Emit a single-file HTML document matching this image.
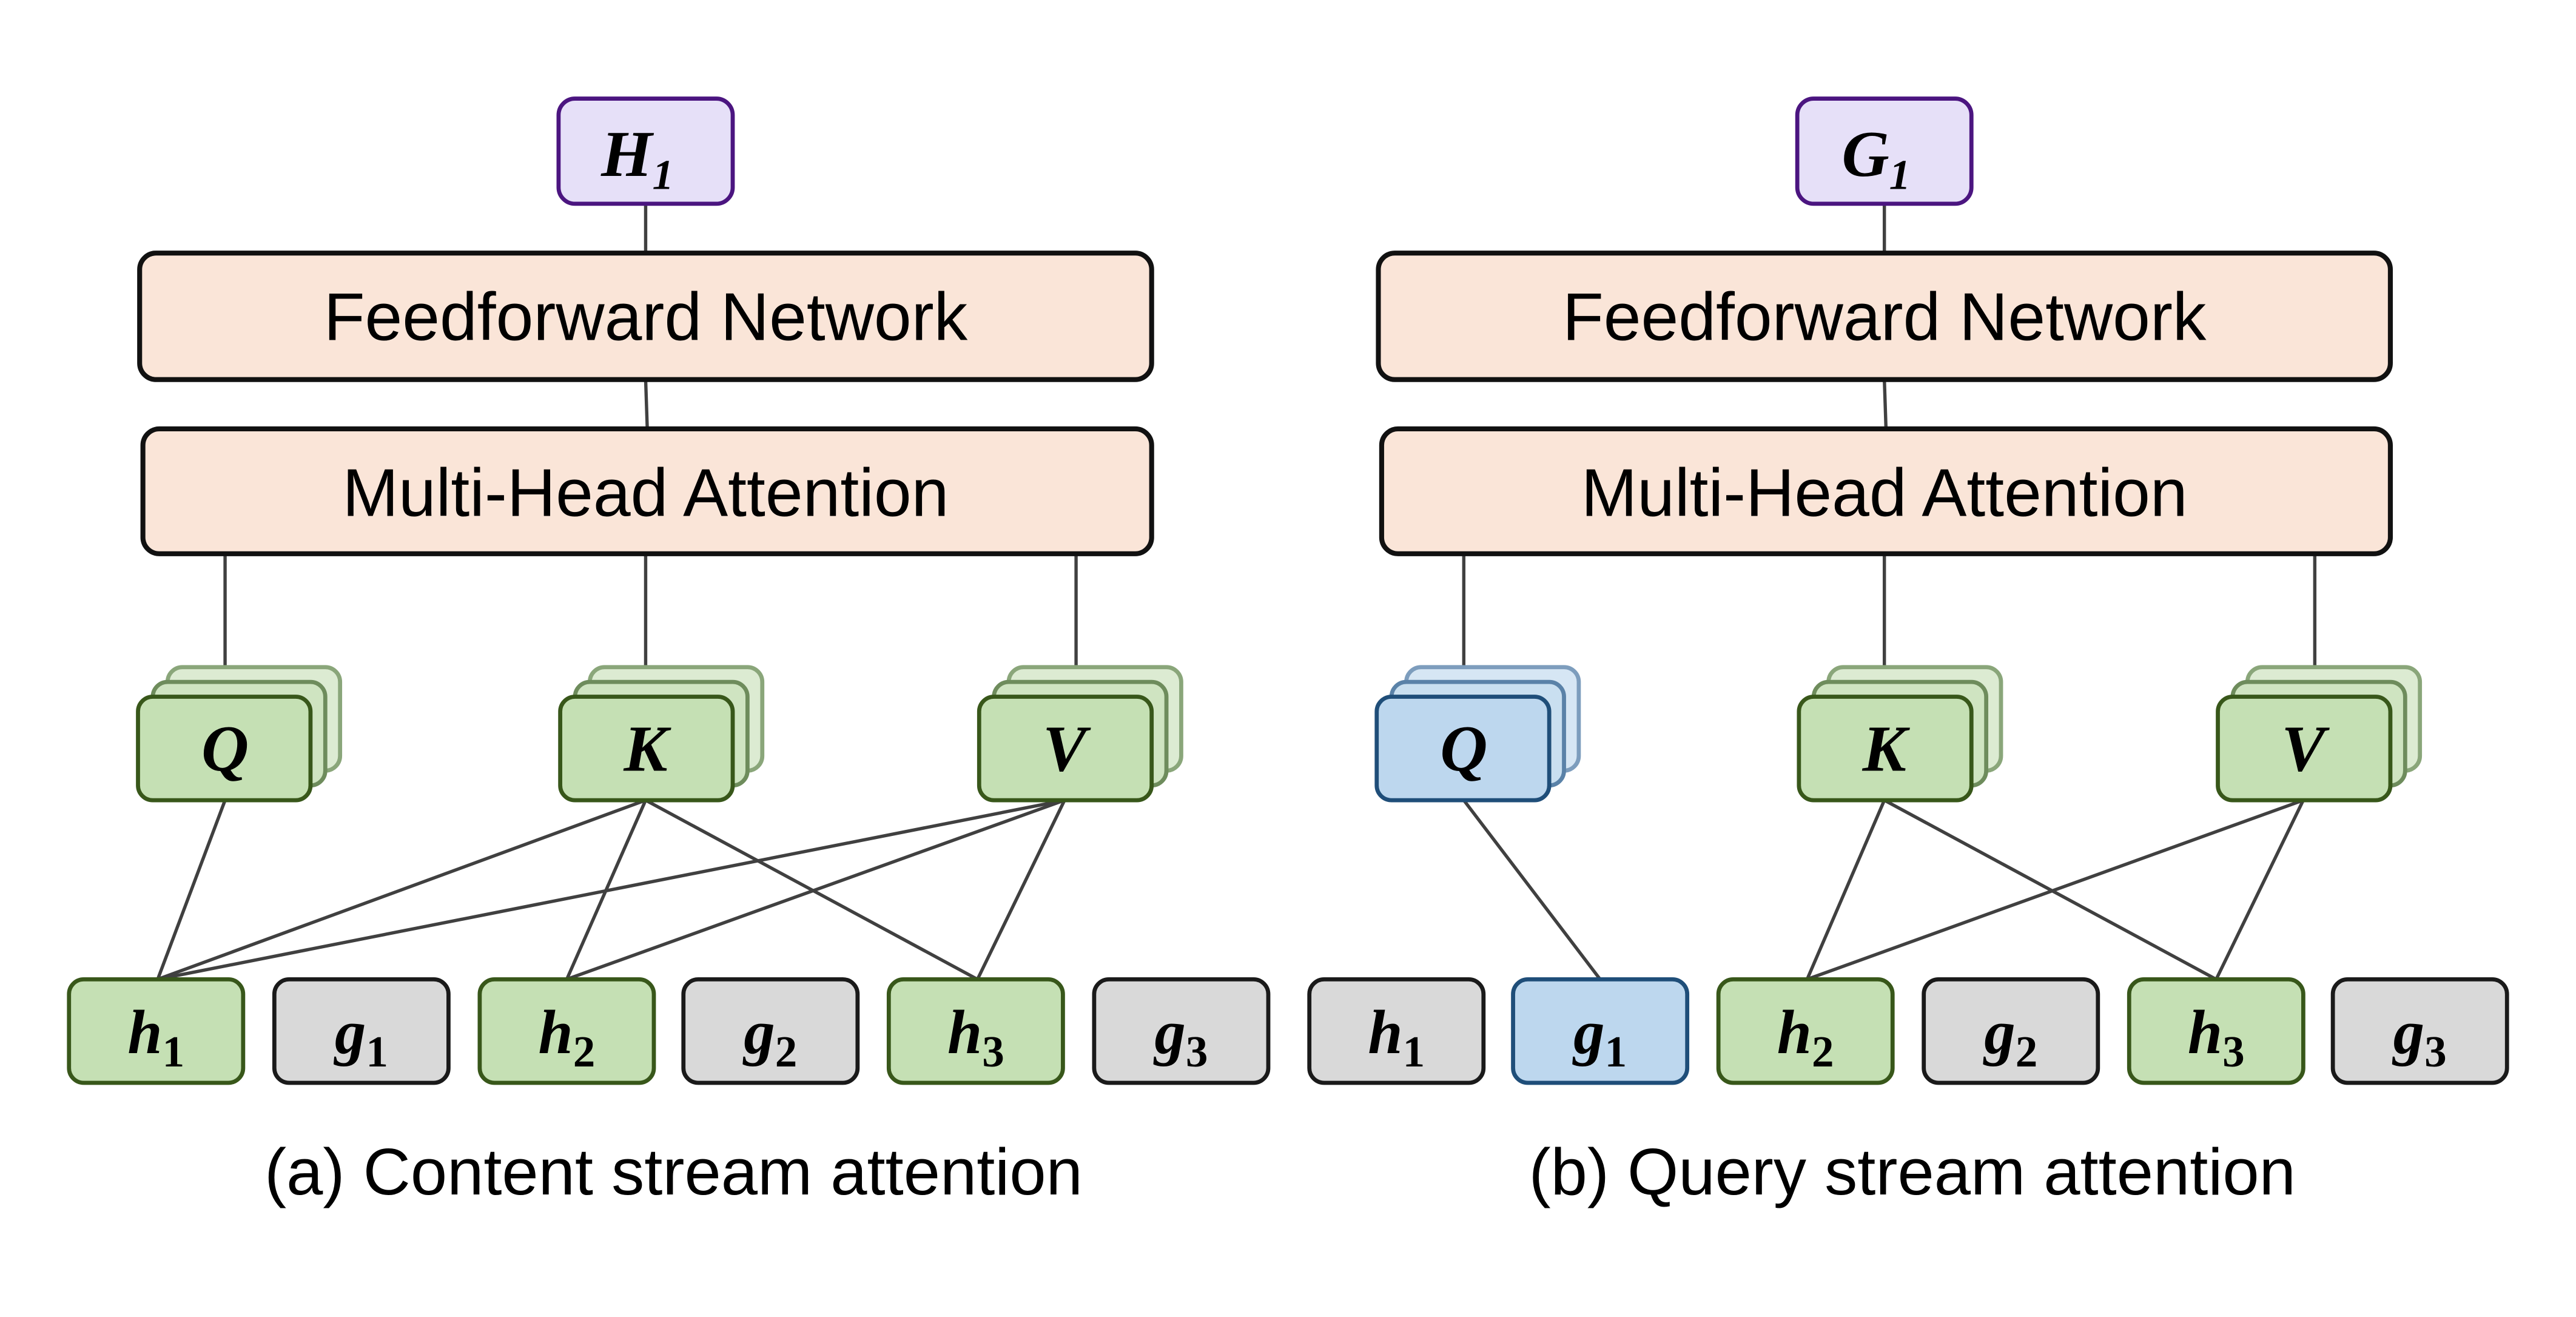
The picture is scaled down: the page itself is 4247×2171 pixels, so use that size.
<!DOCTYPE html>
<html><head><meta charset="utf-8"><style>html,body{margin:0;padding:0;background:#fff}svg{display:block}</style></head>
<body>
<svg width="4247" height="2171" viewBox="0 0 1568 801.5" xmlns="http://www.w3.org/2000/svg">
<defs>
<g id="stackG">
  <rect x="18" y="-18" width="105" height="63" rx="9" fill="#dcebd2" stroke="#8aa67a" stroke-width="2.5"/>
  <rect x="9" y="-9" width="105" height="63" rx="9" fill="#cfe4c1" stroke="#6e8c5c" stroke-width="2.5"/>
  <rect x="0" y="0" width="105" height="63" rx="9" fill="#c5e0b4" stroke="#38571a" stroke-width="2.5"/>
</g>
<g id="stackB">
  <rect x="18" y="-18" width="105" height="63" rx="9" fill="#d6e6f4" stroke="#7d9dbd" stroke-width="2.5"/>
  <rect x="9" y="-9" width="105" height="63" rx="9" fill="#c9dff0" stroke="#5a82a8" stroke-width="2.5"/>
  <rect x="0" y="0" width="105" height="63" rx="9" fill="#bdd7ee" stroke="#1f4e79" stroke-width="2.5"/>
</g>
</defs>
<g stroke="#404040" stroke-width="2" fill="none">
  <line x1="393" y1="124" x2="393" y2="154"/><line x1="393" y1="231" x2="394" y2="261"/>
  <line x1="137" y1="337" x2="137" y2="424"/><line x1="393" y1="337" x2="393" y2="424"/><line x1="655" y1="337" x2="655" y2="424"/>
  <line x1="137" y1="487" x2="96" y2="596"/>
  <line x1="393" y1="487" x2="96" y2="596"/><line x1="393" y1="487" x2="345" y2="596"/><line x1="393" y1="487" x2="595" y2="596"/>
  <line x1="648" y1="487" x2="96" y2="596"/><line x1="648" y1="487" x2="345" y2="596"/><line x1="648" y1="487" x2="595" y2="596"/>
  <line x1="1147" y1="124" x2="1147" y2="154"/><line x1="1147" y1="231" x2="1148" y2="261"/>
  <line x1="891" y1="337" x2="891" y2="424"/><line x1="1147" y1="337" x2="1147" y2="424"/><line x1="1409" y1="337" x2="1409" y2="424"/>
  <line x1="891" y1="487" x2="974" y2="596"/>
  <line x1="1147" y1="487" x2="1100" y2="596"/><line x1="1147" y1="487" x2="1349" y2="596"/>
  <line x1="1402" y1="487" x2="1100" y2="596"/><line x1="1402" y1="487" x2="1349" y2="596"/>
</g>
<g font-family="Liberation Sans, sans-serif" font-size="41" text-anchor="middle" fill="#000">
  <rect x="340" y="60" width="106" height="64" rx="10" fill="#e6e0f8" stroke="#4b1580" stroke-width="2.5"/>
  <rect x="85" y="154" width="616" height="77" rx="10" fill="#fae5d8" stroke="#111" stroke-width="3"/>
  <text x="393" y="207">Feedforward Network</text>
  <rect x="87" y="261" width="614" height="76" rx="10" fill="#fae5d8" stroke="#111" stroke-width="3"/>
  <text x="393" y="314">Multi-Head Attention</text>
  <rect x="1094" y="60" width="106" height="64" rx="10" fill="#e6e0f8" stroke="#4b1580" stroke-width="2.5"/>
  <rect x="839" y="154" width="616" height="77" rx="10" fill="#fae5d8" stroke="#111" stroke-width="3"/>
  <text x="1147" y="207">Feedforward Network</text>
  <rect x="841" y="261" width="614" height="76" rx="10" fill="#fae5d8" stroke="#111" stroke-width="3"/>
  <text x="1147" y="314">Multi-Head Attention</text>
  <text x="410" y="727" font-size="40">(a) Content stream attention</text>
  <text x="1164" y="727" font-size="40">(b) Query stream attention</text>
</g>
<use href="#stackG" x="84" y="424"/><use href="#stackG" x="341" y="424"/><use href="#stackG" x="596" y="424"/>
<use href="#stackB" x="838" y="424"/><use href="#stackG" x="1095" y="424"/><use href="#stackG" x="1350" y="424"/>
<g stroke-width="2.5">
  <rect x="42" y="596" width="106" height="63" rx="9" fill="#c5e0b4" stroke="#38571a"/>
  <rect x="167" y="596" width="106" height="63" rx="9" fill="#d9d9d9" stroke="#1a1a1a"/>
  <rect x="292" y="596" width="106" height="63" rx="9" fill="#c5e0b4" stroke="#38571a"/>
  <rect x="416" y="596" width="106" height="63" rx="9" fill="#d9d9d9" stroke="#1a1a1a"/>
  <rect x="541" y="596" width="106" height="63" rx="9" fill="#c5e0b4" stroke="#38571a"/>
  <rect x="666" y="596" width="106" height="63" rx="9" fill="#d9d9d9" stroke="#1a1a1a"/>
  <rect x="797" y="596" width="106" height="63" rx="9" fill="#d9d9d9" stroke="#1a1a1a"/>
  <rect x="921" y="596" width="106" height="63" rx="9" fill="#bdd7ee" stroke="#1f4e79"/>
  <rect x="1046" y="596" width="106" height="63" rx="9" fill="#c5e0b4" stroke="#38571a"/>
  <rect x="1171" y="596" width="106" height="63" rx="9" fill="#d9d9d9" stroke="#1a1a1a"/>
  <rect x="1296" y="596" width="106" height="63" rx="9" fill="#c5e0b4" stroke="#38571a"/>
  <rect x="1420" y="596" width="106" height="63" rx="9" fill="#d9d9d9" stroke="#1a1a1a"/>
</g>
<g font-family="Liberation Serif, serif" font-style="italic" font-weight="bold" font-size="40" text-anchor="middle" fill="#000">
  <text x="388" y="107">H<tspan font-size="26" dy="8">1</tspan></text>
  <text x="1142" y="107">G<tspan font-size="26" dy="8">1</tspan></text>
  <text x="137" y="469">Q</text><text x="393" y="469">K</text><text x="648" y="469">V</text>
  <text x="891" y="469">Q</text><text x="1147" y="469">K</text><text x="1402" y="469">V</text>
</g>
<g font-family="Liberation Serif, serif" font-weight="bold" font-size="38" text-anchor="middle" fill="#000">
  <text x="95" y="641"><tspan font-style="italic">h</tspan><tspan font-size="27" dy="8">1</tspan></text>
  <text x="220" y="641"><tspan font-style="italic">g</tspan><tspan font-size="27" dy="8">1</tspan></text>
  <text x="345" y="641"><tspan font-style="italic">h</tspan><tspan font-size="27" dy="8">2</tspan></text>
  <text x="469" y="641"><tspan font-style="italic">g</tspan><tspan font-size="27" dy="8">2</tspan></text>
  <text x="594" y="641"><tspan font-style="italic">h</tspan><tspan font-size="27" dy="8">3</tspan></text>
  <text x="719" y="641"><tspan font-style="italic">g</tspan><tspan font-size="27" dy="8">3</tspan></text>
  <text x="850" y="641"><tspan font-style="italic">h</tspan><tspan font-size="27" dy="8">1</tspan></text>
  <text x="974" y="641"><tspan font-style="italic">g</tspan><tspan font-size="27" dy="8">1</tspan></text>
  <text x="1099" y="641"><tspan font-style="italic">h</tspan><tspan font-size="27" dy="8">2</tspan></text>
  <text x="1224" y="641"><tspan font-style="italic">g</tspan><tspan font-size="27" dy="8">2</tspan></text>
  <text x="1349" y="641"><tspan font-style="italic">h</tspan><tspan font-size="27" dy="8">3</tspan></text>
  <text x="1473" y="641"><tspan font-style="italic">g</tspan><tspan font-size="27" dy="8">3</tspan></text>
</g>
</svg>
</body></html>
